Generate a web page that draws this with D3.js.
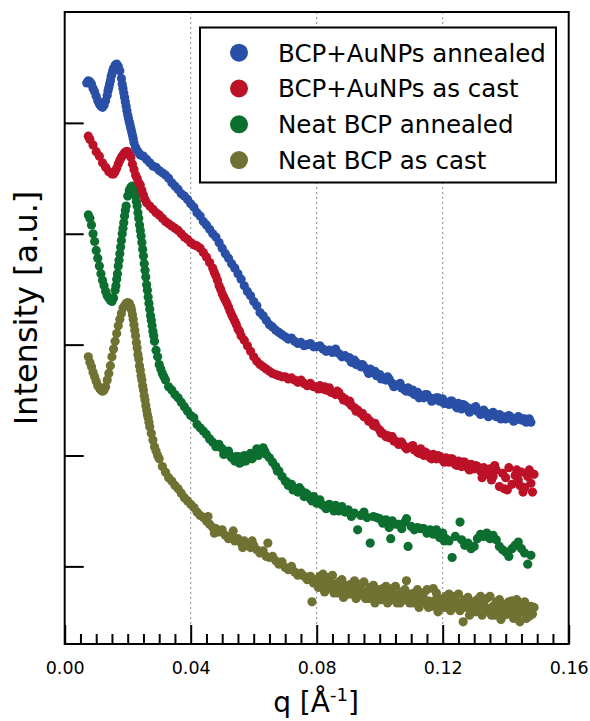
<!DOCTYPE html>
<html><head><meta charset="utf-8">
<script src="https://cdn.jsdelivr.net/npm/d3@7"></script>
<style>body{margin:0;background:#fff}svg{display:block}text{font-family:"DejaVu Sans",Verdana,sans-serif}</style>
</head><body>
<svg id="c" width="590" height="721"></svg>
<script>
// Series names and colours
const seriesNames = ["BCP+AuNPs annealed","BCP+AuNPs as cast","Neat BCP annealed","Neat BCP as cast"];
const seriesColors = ["#2a4fa6","#bd1128","#0c6e2f","#6f7232"];
// Data: [q (1/Å), log10 intensity (a.u.)]
const bcpAuAnnealed = [[0.007,5.36],[0.0075,5.38],[0.008,5.37],[0.0085,5.35],[0.009,5.31],[0.0095,5.28],[0.010,5.24],[0.0105,5.20],[0.011,5.17],[0.0115,5.15],[0.012,5.14],[0.0125,5.16],[0.013,5.20],[0.0135,5.25],[0.01375,5.29],[0.014,5.32],[0.01425,5.35],[0.0145,5.38],[0.01475,5.42],[0.015,5.44],[0.01525,5.47],[0.0155,5.49],[0.016,5.52],[0.0165,5.53],[0.017,5.51],[0.0175,5.47],[0.018,5.40],[0.01825,5.35],[0.0185,5.31],[0.01875,5.27],[0.019,5.23],[0.01925,5.19],[0.0195,5.15],[0.01975,5.11],[0.020,5.07],[0.02025,5.04],[0.0205,5.01],[0.02075,4.98],[0.021,4.95],[0.02125,4.92],[0.0215,4.89],[0.02175,4.86],[0.022,4.82],[0.0225,4.78],[0.023,4.75],[0.0235,4.73],[0.024,4.71],[0.025,4.70],[0.026,4.67],[0.027,4.64],[0.028,4.61],[0.029,4.60],[0.030,4.57],[0.031,4.55],[0.032,4.53],[0.033,4.50],[0.034,4.46],[0.035,4.43],[0.036,4.40],[0.037,4.36],[0.038,4.34],[0.039,4.31],[0.040,4.27],[0.041,4.24],[0.042,4.19],[0.043,4.16],[0.044,4.11],[0.045,4.08],[0.046,4.04],[0.047,4.00],[0.048,3.97],[0.049,3.92],[0.050,3.87],[0.051,3.82],[0.052,3.78],[0.053,3.73],[0.054,3.69],[0.055,3.64],[0.056,3.59],[0.057,3.53],[0.058,3.48],[0.059,3.44],[0.060,3.39],[0.061,3.35],[0.062,3.29],[0.063,3.26],[0.064,3.22],[0.065,3.18],[0.066,3.16],[0.067,3.13],[0.068,3.11],[0.069,3.09],[0.070,3.07],[0.071,3.05],[0.072,3.06],[0.073,3.03],[0.074,3.01],[0.075,3.02],[0.076,2.99],[0.077,3.00],[0.078,3.01],[0.079,2.98],[0.080,2.98],[0.081,2.99],[0.082,2.96],[0.083,2.94],[0.084,2.95],[0.085,2.93],[0.086,2.96],[0.087,2.92],[0.088,2.89],[0.089,2.90],[0.090,2.88],[0.0905,2.88],[0.091,2.84],[0.092,2.86],[0.0925,2.82],[0.093,2.83],[0.094,2.80],[0.0945,2.82],[0.095,2.80],[0.096,2.77],[0.0965,2.74],[0.097,2.78],[0.098,2.75],[0.0985,2.76],[0.099,2.72],[0.100,2.73],[0.1005,2.69],[0.101,2.70],[0.102,2.68],[0.1025,2.71],[0.103,2.69],[0.104,2.65],[0.1045,2.62],[0.105,2.63],[0.106,2.64],[0.1065,2.65],[0.107,2.61],[0.108,2.59],[0.1085,2.58],[0.109,2.61],[0.110,2.57],[0.1105,2.59],[0.111,2.55],[0.112,2.57],[0.1125,2.52],[0.113,2.54],[0.114,2.52],[0.1145,2.55],[0.115,2.55],[0.116,2.52],[0.1165,2.49],[0.117,2.50],[0.118,2.52],[0.1185,2.52],[0.119,2.49],[0.120,2.51],[0.1205,2.47],[0.121,2.48],[0.122,2.46],[0.1225,2.49],[0.123,2.49],[0.124,2.45],[0.1245,2.43],[0.125,2.47],[0.126,2.42],[0.1265,2.46],[0.127,2.45],[0.128,2.43],[0.1285,2.39],[0.129,2.41],[0.130,2.43],[0.1305,2.44],[0.131,2.40],[0.132,2.37],[0.1325,2.38],[0.133,2.41],[0.134,2.38],[0.1345,2.35],[0.135,2.36],[0.136,2.39],[0.1365,2.37],[0.137,2.35],[0.138,2.37],[0.1385,2.33],[0.139,2.35],[0.140,2.33],[0.1405,2.35],[0.141,2.36],[0.142,2.34],[0.1425,2.31],[0.143,2.32],[0.144,2.35],[0.1445,2.34],[0.145,2.32],[0.146,2.33],[0.1465,2.30],[0.147,2.31],[0.1475,2.33],[0.148,2.30]];
const bcpAuCast = [[0.0075,4.88],[0.008,4.85],[0.009,4.80],[0.010,4.74],[0.011,4.70],[0.012,4.64],[0.013,4.60],[0.014,4.56],[0.015,4.54],[0.0155,4.54],[0.016,4.56],[0.0165,4.59],[0.017,4.63],[0.0175,4.66],[0.018,4.69],[0.0185,4.71],[0.019,4.73],[0.0195,4.74],[0.020,4.74],[0.0205,4.72],[0.021,4.69],[0.0215,4.63],[0.022,4.58],[0.0225,4.53],[0.023,4.50],[0.0235,4.46],[0.024,4.44],[0.0245,4.39],[0.025,4.35],[0.0255,4.31],[0.026,4.28],[0.027,4.25],[0.028,4.22],[0.029,4.19],[0.030,4.17],[0.031,4.14],[0.032,4.11],[0.033,4.09],[0.034,4.07],[0.035,4.05],[0.036,4.03],[0.037,4.00],[0.038,3.97],[0.039,3.95],[0.040,3.92],[0.041,3.90],[0.042,3.89],[0.043,3.87],[0.044,3.83],[0.045,3.79],[0.046,3.74],[0.047,3.69],[0.0475,3.65],[0.048,3.62],[0.0485,3.58],[0.049,3.53],[0.0495,3.50],[0.050,3.46],[0.0505,3.43],[0.051,3.40],[0.0515,3.37],[0.052,3.34],[0.0525,3.30],[0.053,3.27],[0.0535,3.24],[0.054,3.21],[0.0545,3.18],[0.055,3.14],[0.0555,3.12],[0.056,3.08],[0.057,3.04],[0.058,2.99],[0.059,2.94],[0.060,2.89],[0.061,2.85],[0.062,2.82],[0.063,2.80],[0.064,2.78],[0.065,2.76],[0.066,2.74],[0.067,2.73],[0.068,2.72],[0.069,2.71],[0.070,2.71],[0.071,2.69],[0.072,2.70],[0.073,2.68],[0.074,2.66],[0.075,2.68],[0.076,2.65],[0.077,2.63],[0.078,2.65],[0.079,2.62],[0.080,2.62],[0.0805,2.60],[0.081,2.63],[0.082,2.60],[0.0825,2.62],[0.083,2.59],[0.084,2.61],[0.0845,2.57],[0.085,2.57],[0.086,2.55],[0.0865,2.58],[0.087,2.57],[0.088,2.53],[0.0885,2.50],[0.089,2.51],[0.090,2.48],[0.0905,2.49],[0.091,2.45],[0.092,2.43],[0.0925,2.40],[0.093,2.41],[0.094,2.38],[0.0945,2.38],[0.095,2.35],[0.096,2.34],[0.0965,2.31],[0.097,2.31],[0.098,2.27],[0.0985,2.29],[0.099,2.26],[0.100,2.23],[0.1005,2.20],[0.101,2.20],[0.102,2.17],[0.1025,2.18],[0.103,2.16],[0.104,2.17],[0.1045,2.13],[0.105,2.13],[0.106,2.10],[0.1065,2.12],[0.107,2.12],[0.108,2.08],[0.1085,2.06],[0.109,2.07],[0.110,2.08],[0.1105,2.09],[0.111,2.05],[0.112,2.03],[0.1125,2.02],[0.113,2.06],[0.114,2.00],[0.1145,2.03],[0.115,2.02],[0.116,1.98],[0.1165,1.97],[0.117,2.01],[0.118,1.97],[0.1185,2.00],[0.119,1.99],[0.120,1.96],[0.1205,1.94],[0.121,1.98],[0.122,1.94],[0.1225,1.97],[0.123,1.97],[0.124,1.92],[0.1245,1.91],[0.125,1.95],[0.126,1.90],[0.1265,1.94],[0.127,1.94],[0.128,1.89],[0.1285,1.87],[0.129,1.92],[0.130,1.88],[0.1305,1.91],[0.131,1.90],[0.132,1.86],[0.1325,1.80],[0.133,1.89],[0.134,1.83],[0.135,1.88],[0.1355,1.78],[0.136,1.81],[0.1365,1.91],[0.137,1.87],[0.138,1.72],[0.139,1.84],[0.1395,1.70],[0.140,1.80],[0.1405,1.69],[0.141,1.89],[0.142,1.74],[0.143,1.82],[0.1435,1.87],[0.144,1.78],[0.1445,1.73],[0.145,1.85],[0.1455,1.67],[0.146,1.71],[0.147,1.81],[0.1475,1.87],[0.148,1.75],[0.1485,1.67],[0.149,1.83]];
const neatAnnealed = [[0.0075,4.17],[0.008,4.14],[0.0085,4.08],[0.009,4.00],[0.0095,3.93],[0.010,3.85],[0.0105,3.78],[0.011,3.71],[0.0115,3.64],[0.012,3.58],[0.0125,3.53],[0.013,3.48],[0.0135,3.44],[0.014,3.42],[0.0145,3.40],[0.015,3.39],[0.0155,3.42],[0.016,3.49],[0.01625,3.53],[0.0165,3.59],[0.01675,3.64],[0.017,3.71],[0.01725,3.76],[0.0175,3.82],[0.01775,3.88],[0.018,3.94],[0.01825,4.00],[0.0185,4.05],[0.01875,4.10],[0.019,4.16],[0.01925,4.21],[0.0195,4.25],[0.020,4.34],[0.0205,4.39],[0.021,4.42],[0.0215,4.43],[0.022,4.40],[0.02225,4.37],[0.0225,4.34],[0.02275,4.29],[0.023,4.25],[0.02325,4.19],[0.0235,4.14],[0.02375,4.08],[0.024,4.03],[0.02425,3.98],[0.0245,3.92],[0.02475,3.86],[0.025,3.80],[0.02525,3.73],[0.0255,3.67],[0.02575,3.61],[0.026,3.54],[0.02625,3.49],[0.0265,3.43],[0.02675,3.37],[0.027,3.32],[0.02725,3.26],[0.0275,3.22],[0.02775,3.17],[0.028,3.12],[0.02825,3.08],[0.0285,3.03],[0.029,2.95],[0.0295,2.89],[0.030,2.82],[0.0305,2.78],[0.031,2.74],[0.0315,2.71],[0.032,2.68],[0.033,2.62],[0.034,2.59],[0.035,2.55],[0.036,2.52],[0.037,2.48],[0.038,2.44],[0.039,2.40],[0.040,2.36],[0.041,2.34],[0.042,2.28],[0.043,2.25],[0.044,2.22],[0.045,2.19],[0.046,2.15],[0.047,2.12],[0.048,2.08],[0.049,2.10],[0.050,2.06],[0.0505,2.01],[0.051,2.02],[0.052,2.04],[0.0525,2.00],[0.053,1.98],[0.054,1.95],[0.0545,1.99],[0.055,1.99],[0.0555,1.93],[0.056,1.94],[0.057,2.00],[0.0575,1.95],[0.058,1.98],[0.059,2.02],[0.0595,1.97],[0.060,2.00],[0.061,2.06],[0.0615,2.00],[0.062,2.03],[0.063,2.07],[0.0635,2.04],[0.064,2.01],[0.065,1.98],[0.066,1.94],[0.067,1.90],[0.0675,1.86],[0.068,1.86],[0.069,1.81],[0.070,1.77],[0.0705,1.76],[0.071,1.73],[0.072,1.74],[0.0725,1.69],[0.073,1.70],[0.074,1.67],[0.0745,1.71],[0.075,1.69],[0.076,1.63],[0.0765,1.66],[0.077,1.65],[0.078,1.61],[0.0785,1.59],[0.079,1.63],[0.080,1.57],[0.081,1.60],[0.0815,1.56],[0.082,1.55],[0.083,1.52],[0.0835,1.55],[0.084,1.56],[0.085,1.53],[0.0855,1.50],[0.086,1.55],[0.087,1.50],[0.0875,1.53],[0.088,1.54],[0.089,1.49],[0.090,1.51],[0.091,1.45],[0.092,1.48],[0.093,1.33],[0.094,1.46],[0.095,1.49],[0.096,1.44],[0.097,1.21],[0.098,1.45],[0.099,1.44],[0.100,1.43],[0.101,1.39],[0.102,1.42],[0.103,1.35],[0.1035,1.25],[0.104,1.41],[0.105,1.38],[0.106,1.38],[0.107,1.34],[0.108,1.40],[0.1085,1.43],[0.109,1.18],[0.110,1.36],[0.111,1.33],[0.112,1.35],[0.113,1.34],[0.114,1.34],[0.115,1.30],[0.116,1.33],[0.117,1.29],[0.118,1.33],[0.119,1.26],[0.120,1.30],[0.1205,1.23],[0.121,1.25],[0.122,1.23],[0.123,1.08],[0.124,1.27],[0.1255,1.40],[0.126,1.24],[0.127,1.19],[0.128,1.21],[0.129,1.16],[0.130,1.18],[0.131,1.25],[0.132,1.29],[0.133,1.27],[0.134,1.30],[0.135,1.25],[0.136,1.28],[0.137,1.24],[0.138,1.18],[0.139,1.15],[0.140,1.13],[0.141,1.09],[0.142,1.16],[0.143,1.19],[0.144,1.22],[0.145,1.16],[0.146,1.12],[0.147,1.02],[0.148,1.10]];
const neatCast = [[0.0075,2.89],[0.008,2.84],[0.0085,2.80],[0.009,2.75],[0.0095,2.71],[0.010,2.67],[0.0105,2.63],[0.011,2.61],[0.0115,2.59],[0.012,2.58],[0.0125,2.59],[0.013,2.62],[0.0135,2.68],[0.014,2.74],[0.0145,2.81],[0.015,2.89],[0.0155,2.96],[0.016,3.03],[0.0165,3.10],[0.017,3.17],[0.0175,3.23],[0.018,3.28],[0.0185,3.33],[0.019,3.35],[0.0195,3.37],[0.020,3.38],[0.0205,3.37],[0.02075,3.35],[0.021,3.34],[0.02125,3.31],[0.0215,3.27],[0.02175,3.23],[0.022,3.18],[0.02225,3.13],[0.0225,3.08],[0.02275,3.02],[0.023,2.97],[0.02325,2.91],[0.0235,2.87],[0.02375,2.81],[0.024,2.77],[0.02425,2.72],[0.0245,2.68],[0.02475,2.63],[0.025,2.59],[0.02525,2.54],[0.0255,2.50],[0.02575,2.45],[0.026,2.41],[0.02625,2.37],[0.0265,2.34],[0.02675,2.30],[0.027,2.26],[0.0275,2.20],[0.028,2.14],[0.0285,2.08],[0.029,2.04],[0.0295,2.00],[0.030,1.97],[0.031,1.90],[0.032,1.85],[0.033,1.80],[0.034,1.77],[0.035,1.73],[0.036,1.70],[0.037,1.66],[0.038,1.62],[0.039,1.59],[0.040,1.56],[0.041,1.53],[0.042,1.49],[0.043,1.46],[0.044,1.44],[0.045,1.41],[0.0455,1.45],[0.046,1.38],[0.047,1.35],[0.0475,1.30],[0.048,1.34],[0.049,1.31],[0.050,1.33],[0.051,1.28],[0.052,1.25],[0.053,1.27],[0.0535,1.32],[0.054,1.23],[0.055,1.25],[0.056,1.21],[0.0565,1.17],[0.057,1.23],[0.058,1.19],[0.059,1.17],[0.0595,1.23],[0.060,1.19],[0.061,1.15],[0.062,1.12],[0.063,1.14],[0.064,1.09],[0.0645,1.21],[0.065,1.08],[0.066,1.09],[0.067,1.05],[0.068,1.02],[0.069,1.04],[0.070,0.99],[0.071,0.97],[0.072,1.00],[0.073,0.95],[0.074,0.92],[0.075,0.94],[0.076,0.91],[0.077,0.88],[0.078,0.91],[0.0785,0.68],[0.079,0.85],[0.080,0.88],[0.0805,0.81],[0.081,0.91],[0.08125,0.86],[0.0815,0.84],[0.082,0.93],[0.0825,0.77],[0.083,0.87],[0.08325,0.83],[0.0835,0.80],[0.084,0.90],[0.0845,0.81],[0.085,0.92],[0.08525,0.84],[0.0855,0.76],[0.086,0.83],[0.0865,0.76],[0.087,0.86],[0.08725,0.80],[0.0875,0.79],[0.088,0.88],[0.0885,0.72],[0.089,0.82],[0.08925,0.81],[0.0895,0.75],[0.090,0.83],[0.0905,0.75],[0.091,0.84],[0.09125,0.78],[0.0915,0.78],[0.092,0.87],[0.0925,0.71],[0.093,0.81],[0.09325,0.79],[0.0935,0.74],[0.094,0.84],[0.0945,0.76],[0.095,0.86],[0.09525,0.76],[0.0955,0.71],[0.096,0.78],[0.0965,0.71],[0.097,0.81],[0.09725,0.77],[0.0975,0.74],[0.098,0.83],[0.0985,0.67],[0.099,0.77],[0.09925,0.75],[0.0995,0.71],[0.100,0.79],[0.1005,0.70],[0.101,0.80],[0.10125,0.75],[0.1015,0.74],[0.102,0.82],[0.1025,0.67],[0.103,0.77],[0.10325,0.73],[0.1035,0.70],[0.104,0.80],[0.1045,0.72],[0.105,0.82],[0.10525,0.74],[0.1055,0.67],[0.106,0.74],[0.1065,0.67],[0.107,0.77],[0.10725,0.72],[0.1075,0.70],[0.108,0.79],[0.1085,0.87],[0.109,0.74],[0.10925,0.72],[0.1095,0.67],[0.110,0.75],[0.1105,0.67],[0.111,0.76],[0.11125,0.70],[0.1115,0.70],[0.112,0.79],[0.1125,0.63],[0.113,0.73],[0.11325,0.71],[0.1135,0.67],[0.114,0.76],[0.1145,0.68],[0.115,0.79],[0.11525,0.69],[0.1155,0.63],[0.116,0.68],[0.1165,0.64],[0.117,0.80],[0.11725,0.69],[0.1175,0.66],[0.118,0.76],[0.1185,0.59],[0.119,0.70],[0.11925,0.67],[0.1195,0.64],[0.120,0.71],[0.1205,0.63],[0.121,0.73],[0.12125,0.68],[0.1215,0.66],[0.122,0.75],[0.1225,0.60],[0.123,0.70],[0.12325,0.66],[0.1235,0.63],[0.124,0.73],[0.1245,0.64],[0.125,0.75],[0.12525,0.67],[0.1255,0.60],[0.126,0.67],[0.1265,0.50],[0.127,0.70],[0.12725,0.65],[0.1275,0.63],[0.128,0.72],[0.1285,0.56],[0.129,0.66],[0.12925,0.65],[0.1295,0.60],[0.130,0.68],[0.1305,0.59],[0.131,0.70],[0.13125,0.63],[0.1315,0.62],[0.132,0.73],[0.1325,0.56],[0.133,0.66],[0.13325,0.64],[0.1335,0.60],[0.134,0.71],[0.1345,0.60],[0.135,0.73],[0.13525,0.62],[0.1355,0.56],[0.136,0.64],[0.1365,0.56],[0.137,0.68],[0.13725,0.63],[0.1375,0.60],[0.138,0.70],[0.1385,0.52],[0.139,0.64],[0.13925,0.61],[0.1395,0.56],[0.140,0.66],[0.1405,0.57],[0.141,0.68],[0.14125,0.62],[0.1415,0.60],[0.142,0.69],[0.1425,0.53],[0.143,0.64],[0.14325,0.60],[0.1435,0.70],[0.144,0.57],[0.1445,0.50],[0.145,0.66],[0.14525,0.61],[0.1455,0.59],[0.146,0.68],[0.1465,0.53],[0.147,0.62],[0.14725,0.59],[0.1475,0.55],[0.148,0.64],[0.1485,0.57],[0.149,0.63]];
// Axis ticks
const xMajorTicks = [0, 0.04, 0.08, 0.12, 0.16];
const xTickLabels = ["0.00", "0.04", "0.08", "0.12", "0.16"];
const xGridLines = [0.04, 0.08, 0.12];
const yDecadeTicks = [1e1, 1e2, 1e3, 1e4, 1e5];

const allSeries = [bcpAuAnnealed, bcpAuCast, neatAnnealed, neatCast];

const svg = d3.select("#c");
const L = 64.7, R = 568.7, T = 12, B = 644;
const x = d3.scaleLinear().domain([0, 0.16]).range([L, R]);
const y = d3.scaleLog().domain([Math.pow(10, 0.3), 1e6]).range([B, T]);

// grid
svg.append("g").selectAll("line").data(xGridLines).join("line")
  .attr("x1", d => x(d)).attr("x2", d => x(d)).attr("y1", T).attr("y2", B)
  .attr("stroke", "#8a8a8a").attr("stroke-width", 1).attr("stroke-dasharray", "2,3");

// data, drawn bottom series first
const order = [3, 2, 1, 0];
order.forEach(i => {
  svg.append("g").selectAll("circle").data(allSeries[i]).join("circle")
    .attr("cx", d => x(d[0])).attr("cy", d => y(Math.pow(10, d[1])))
    .attr("r", 4.6).attr("fill", seriesColors[i]);
});

// x axis minor ticks
const minor = d3.range(0.005, 0.16, 0.005).filter(v => Math.abs(v / 0.04 - Math.round(v / 0.04)) > 1e-6);
const gMinor = svg.append("g").attr("transform", `translate(0,${B})`)
  .call(d3.axisBottom(x).tickValues(minor).tickSize(-10).tickFormat(""));
gMinor.select(".domain").remove();
gMinor.selectAll("line").attr("stroke", "#000").attr("stroke-width", 2);

const gx = svg.append("g").attr("transform", `translate(0,${B})`)
  .call(d3.axisBottom(x).tickValues(xMajorTicks).tickSize(-19).tickPadding(18)
    .tickFormat((d, i) => xTickLabels[i]));
gx.select(".domain").remove();
gx.selectAll("line").attr("stroke", "#000").attr("stroke-width", 2);
gx.selectAll("text").attr("font-size", "17.5px").attr("fill", "#000")
  .style("font-family", '"DejaVu Sans",Verdana,sans-serif');

const gy = svg.append("g").attr("transform", `translate(${L},0)`)
  .call(d3.axisLeft(y).tickValues(yDecadeTicks).tickSize(-19).tickFormat(""));
gy.select(".domain").remove();
gy.selectAll("line").attr("stroke", "#000").attr("stroke-width", 2);

// frame
svg.append("rect").attr("x", L).attr("y", T).attr("width", R - L).attr("height", B - T)
  .attr("fill", "none").attr("stroke", "#000").attr("stroke-width", 2);

// legend
const lg = svg.append("g");
lg.append("rect").attr("x", 200).attr("y", 27.5).attr("width", 356).attr("height", 155)
  .attr("fill", "#fff").attr("stroke", "#000").attr("stroke-width", 2);
seriesNames.forEach((n, i) => {
  const cy = 52.7 + i * 35.8;
  lg.append("circle").attr("cx", 239).attr("cy", cy).attr("r", 9).attr("fill", seriesColors[i]);
  lg.append("text").attr("x", 278).attr("y", cy + 8.8).attr("font-size", "24.5px").attr("fill", "#000").text(n);
});

// axis labels
svg.append("text").attr("transform", "translate(36.5,308) rotate(-90)")
  .attr("text-anchor", "middle").attr("font-size", "32px").attr("fill", "#000").text("Intensity [a.u.]");
const xl = svg.append("text").attr("x", 316).attr("y", 712).attr("text-anchor", "middle")
  .attr("font-size", "28px").attr("fill", "#000");
xl.append("tspan").text("q [Å");
xl.append("tspan").attr("font-size", "18px").attr("dy", -11).text("-1");
xl.append("tspan").attr("dy", 11).text("]");
</script>
</body></html>
